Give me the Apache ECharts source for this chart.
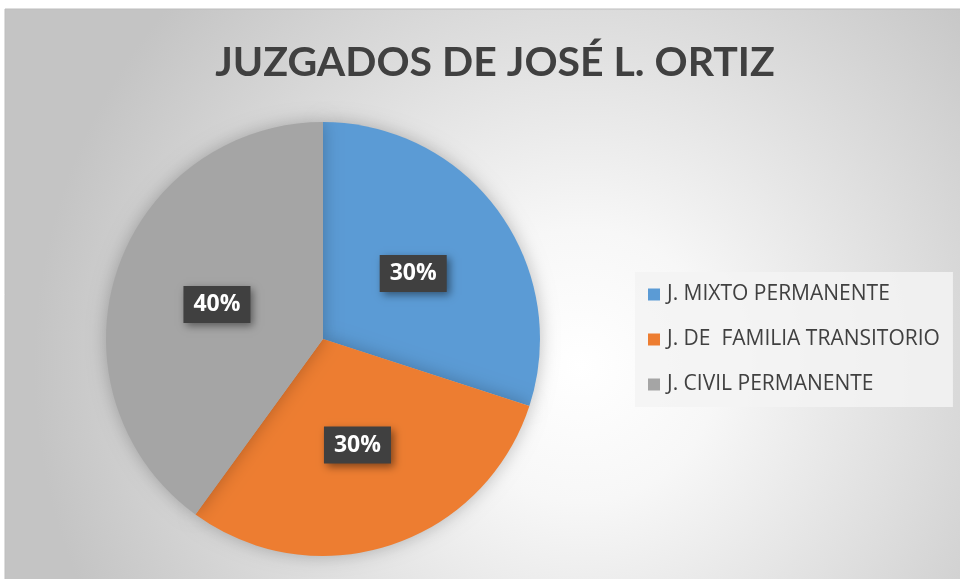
<!DOCTYPE html>
<html>
<head>
<meta charset="utf-8">
<script src="https://cdn.jsdelivr.net/npm/echarts@6/dist/echarts.min.js"></script>
<style>
  html, body { margin: 0; padding: 0; background: #fff; }
  #grafica { width: 960px; height: 579px; }
</style>
</head>
<body>
<div id="grafica"></div>
<script>
var categorias = ['J. MIXTO PERMANENTE', 'J. DE  FAMILIA TRANSITORIO', 'J. CIVIL PERMANENTE']
var valores = [30, 30, 40]
var colores = ['#5b9bd5', '#ed7d31', '#a5a5a5']

var myChart = echarts.init(document.getElementById('grafica'))

var datos = categorias.map(function (c, i) {
  return { name: c, value: valores[i] }
})

var option = {
  backgroundColor: '#fff',
  color: colores,
  graphic: [
    {
      type: 'rect',
      z: -10,
      shape: { x: 5, y: 9, width: 960, height: 575 },
      style: {
        fill: new echarts.graphic.RadialGradient(0.6, 0.62, 0.95, [
          { offset: 0, color: '#ffffff' },
          { offset: 0.25, color: '#f7f7f7' },
          { offset: 1, color: '#c4c4c4' }
        ]),
        stroke: '#bdbdbd',
        lineWidth: 1
      }
    }
  ],
  title: {
    text: 'JUZGADOS DE JOSÉ L. ORTIZ',
    left: 490,
    textAlign: 'center',
    top: 37,
    textStyle: {
      fontFamily: 'Lato',
      fontWeight: 'bold',
      fontSize: 41,
      color: '#404040'
    }
  },
  legend: {
    orient: 'vertical',
    left: 635,
    top: 272,
    padding: [12, 13, 12, 13],
    itemWidth: 12,
    itemHeight: 12,
    itemGap: 24,
    backgroundColor: 'rgba(243,243,243,0.85)',
    icon: 'rect',
    data: categorias,
    textStyle: {
      fontFamily: 'Open Sans',
      fontSize: 21,
      color: '#404040',
      padding: [0, 0, 0, 2]
    }
  },
  series: [
    {
      type: 'pie',
      center: [323, 339],
      radius: 217,
      startAngle: 90,
      clockwise: true,
      avoidLabelOverlap: false,
      data: datos,
      itemStyle: {
        shadowBlur: 18,
        shadowColor: 'rgba(0,0,0,0.25)'
      },
      emphasis: { disabled: true },
      label: {
        show: true,
        position: 'inside',
        formatter: function (p) { return p.value + '%' },
        fontFamily: 'Open Sans',
        fontWeight: 'bold',
        fontSize: 23,
        color: '#fff',
        backgroundColor: '#404040',
        padding: [8, 10, 6, 10],
        shadowBlur: 8,
        shadowColor: 'rgba(0,0,0,0.45)',
        shadowOffsetX: 3,
        shadowOffsetY: 3
      },
      labelLine: { show: false }
    }
  ]
}

myChart.setOption(option)
</script>
</body>
</html>
